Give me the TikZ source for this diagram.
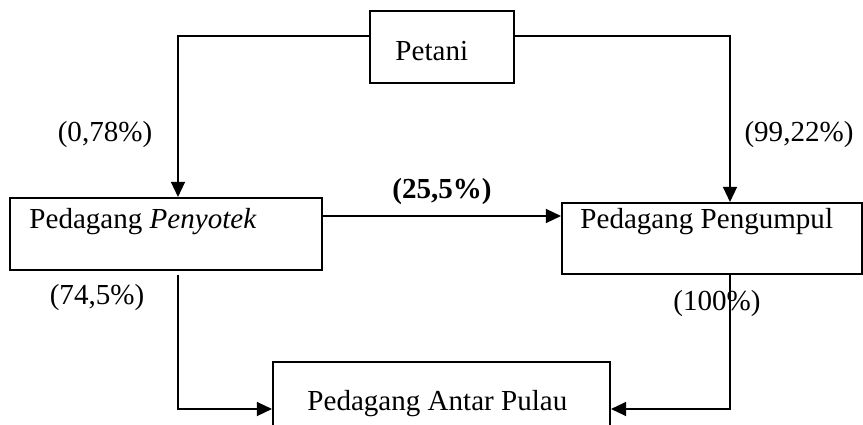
\documentclass[tikz,border=0pt]{standalone}
\usepackage{fontspec}
\setmainfont{Liberation Serif}
\usetikzlibrary{arrows.meta}

\begin{document}
\begin{tikzpicture}[x=0.015cm, y=-0.015cm, >={Triangle[length=6.5pt,width=6pt]},
		font=\fontsize{12.4}{15}\selectfont,
		kotak/.style={draw, line width=0.85pt, inner sep=0pt},
		teks/.style={inner sep=0pt, anchor=base west},
		alur/.style={->, line width=0.7pt}]
		\useasboundingbox (0,0) rectangle (863,425);
		\clip (0,0) rectangle (863,425);
		
		% kotak-kotak
		\node[kotak, minimum width=2.16cm, minimum height=1.08cm] (petani) at (442,47) {};
		\node[kotak, minimum width=4.68cm, minimum height=1.08cm] (penyotek) at (166,234) {};
		\node[kotak, minimum width=4.5cm, minimum height=1.065cm] (pengumpul) at (712,238.5) {};
		\node[kotak, minimum width=5.055cm, minimum height=1.08cm] (antar) at (441.5,398) {};
		
		\node[teks] (tpetani) at (395,61) {Petani};
		\node[teks] (tpenyotek) at (29,228) {Pedagang \textit{Penyotek}};
		\node[teks] (tpengumpul) at (580,228) {Pedagang Pengumpul};
		\node[teks] (tantar) at (307,410) {Pedagang Antar Pulau};
		
		% persentase
		\node (p1) at (105,135) {(0,78\%)};
		\node (p2) at (799,135) {(99,22\%)};
		\node (p3) at (442,192) {\textbf{(25,5\%)}};
		\node (p4) at (97,298) {(74,5\%)};
		\node (p5) at (717,304) {(100\%)};
		
		% alur
		\draw[alur] ([yshift=0.165cm]petani.west) -| ([xshift=0.18cm]penyotek.north);
		\draw[alur] ([yshift=0.165cm]petani.east) -| ([xshift=0.27cm]pengumpul.north);
		\draw[alur] ([yshift=0.27cm]penyotek.east) coordinate (a) -- (a -| pengumpul.west);
		\draw[alur, shorten <=1.5pt] ([xshift=0.18cm]penyotek.south) |- ([yshift=-0.165cm]antar.west);
		\draw[alur] ([xshift=0.27cm]pengumpul.south) |- ([yshift=-0.165cm]antar.east);
	\end{tikzpicture}
\end{document}
